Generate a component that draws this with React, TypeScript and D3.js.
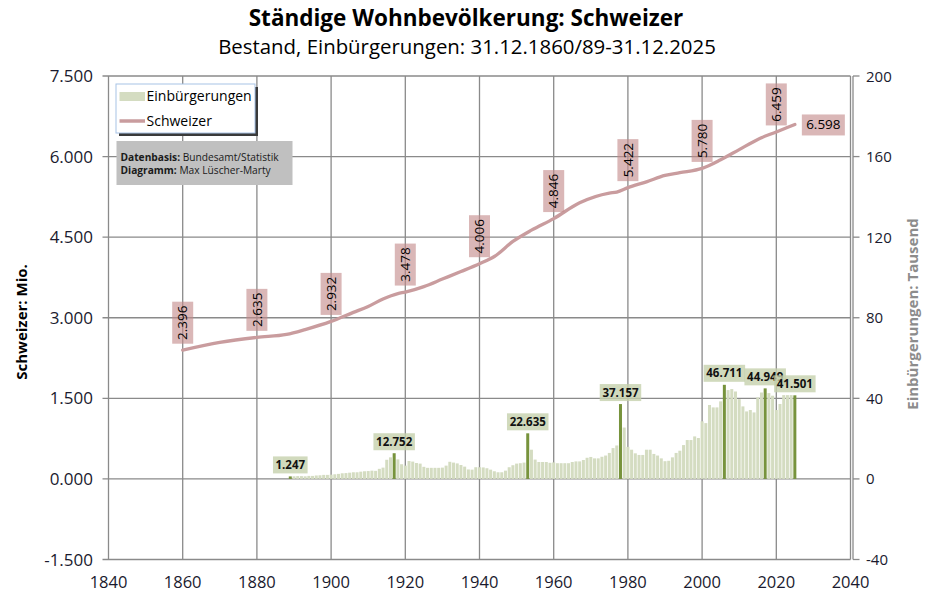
import React from "react";
import * as d3 from "d3";

// ---------- DATA ----------
const xTicks = [1840, 1860, 1880, 1900, 1920, 1940, 1960, 1980, 2000, 2020, 2040];
const leftTicks = [-1.5, 0, 1.5, 3, 4.5, 6, 7.5];
const rightTicks = [-40, 0, 40, 80, 120, 160, 200];

// Einbürgerungen (Tausend), one value per year starting 1889
const natFirstYear = 1889;
const naturalizations = [
  1.247, 1.3, 1.4, 1.4, 1.3, 1.5, 1.5, 1.7, 1.8, 2.0,
  2.0, 2.1, 2.3, 2.5, 2.8, 2.9, 3.1, 3.3, 3.3, 3.6,
  3.8, 3.9, 4.1, 4.0, 5.0, 5.6, 9.5, 10.7, 12.752, 9.7,
  7.3, 6.6, 8.9, 8.6, 7.9, 7.6, 6.0, 5.5, 5.5, 5.5,
  5.5, 5.6, 6.6, 8.5, 8.1, 7.7, 6.9, 6.1, 4.7, 4.6,
  5.8, 5.8, 5.7, 5.3, 4.6, 3.8, 3.3, 3.3, 4.1, 5.8,
  6.8, 7.6, 7.8, 8.1, 22.635, 14.5, 9.6, 8.4, 8.4, 8.4,
  8.0, 8.2, 7.8, 7.8, 7.8, 7.8, 8.4, 8.7, 8.7, 9.4,
  10.5, 10.9, 10.2, 10.2, 11.0, 11.6, 12.9, 15.3, 16.6, 37.157,
  25.5, 15.9, 14.5, 12.7, 11.9, 11.9, 14.5, 14.5, 12.4, 11.6,
  10.2, 8.8, 9.0, 10.7, 12.9, 14.0, 16.8, 19.3, 19.3, 21.1,
  20.3, 28.6, 27.7, 36.7, 35.5, 35.5, 38.5, 46.711, 44.1, 44.6,
  43.4, 39.6, 36.0, 33.5, 34.2, 33.0, 40.5, 42.9, 44.949, 42.6,
  41.3, 34.2, 37.2, 41.6, 41.6, 41.6, 41.501,
];
const highlightYears = [1889, 1917, 1953, 1978, 2006, 2017, 2025];

// Schweizer (Mio.)
const popYears = [
  1860, 1870, 1880, 1888, 1893, 1900, 1906, 1910, 1914, 1918,
  1920, 1925, 1930, 1935, 1940, 1944, 1949, 1954, 1960, 1967,
  1975, 1977, 1980, 1985, 1990, 1994, 2000, 2005, 2010, 2015,
  2020, 2025,
];
const popValues = [
  2.396, 2.54, 2.635, 2.69, 2.78, 2.932, 3.1, 3.21, 3.35, 3.45,
  3.478, 3.58, 3.72, 3.86, 4.006, 4.14, 4.42, 4.63, 4.846, 5.14,
  5.32, 5.34, 5.422, 5.53, 5.65, 5.7, 5.78, 5.94, 6.13, 6.32,
  6.459, 6.598,
];
const popLabelYears = [1860, 1880, 1900, 1920, 1940, 1960, 1980, 2000, 2020];
const popEndYear = 2025;

// ---------- STYLE ----------
const FONT = "'Open Sans', 'Noto Sans', sans-serif";
const GRID = "#8a8a8a";
const BAR = "#d4dcc1";
const BAR_HI = "#77933c";
const LINE = "#c99c9e";
const LINE_BOX = "#c48a8a";
const BAR_BOX = "#c6d1ad";

const fmt3 = (v: number) => v.toFixed(3);

export default function App() {
  const W = 932;
  const H = 599;
  const x = d3.scaleLinear().domain([1840, 2040]).range([108.5, 850.5]);
  const yL = d3.scaleLinear().domain([-1.5, 7.5]).range([559.5, 76]);
  const yR = d3.scaleLinear().domain([-40, 200]).range([559.5, 76]);

  const bars = naturalizations.map((v, i) => ({ year: natFirstYear + i, v }));
  const pop = popYears.map((yr, i) => ({ year: yr, v: popValues[i] }));
  const popAt = (yr: number) => pop.find((d) => d.year === yr)!.v;

  const line = d3
    .line<{ year: number; v: number }>()
    .x((d) => x(d.year))
    .y((d) => yL(d.v))
    .curve(d3.curveMonotoneX);

  const barW = 3.0;

  const barLabels = highlightYears.map((yr) => {
    const v = bars.find((b) => b.year === yr)!.v;
    const t = fmt3(v);
    const digits = t.replace(".", "").length;
    const w = digits * 6.9 + 3 + 4;
    return { yr, v, t, w };
  });

  const endV = popAt(popEndYear);

  return (
    <svg
      width={W}
      height={H}
      style={{ position: "absolute", left: 0, top: 0, background: "#fff" }}
      fontFamily={FONT}
    >
      <rect x={0} y={0} width={W} height={H} fill="#fff" />
      {/* Titles */}
      <text x={466} y={26} textAnchor="middle" fontWeight="bold" fontSize={22.5} fill="#000">
        Ständige Wohnbevölkerung: Schweizer
      </text>
      <text x={467} y={54} textAnchor="middle" fontSize={20.4} fill="#000">
        Bestand, Einbürgerungen: 31.12.1860/89-31.12.2025
      </text>

      {/* Grid */}
      {xTicks.map((t) => (
        <line key={"gx" + t} x1={x(t)} x2={x(t)} y1={yL(7.5)} y2={yL(-1.5)} stroke={GRID} strokeWidth={1.3} />
      ))}
      {leftTicks.map((t) => (
        <line key={"gy" + t} x1={x(1840) - 6} x2={x(2040)} y1={yL(t)} y2={yL(t)} stroke={GRID} strokeWidth={1.3} />
      ))}
      {/* right axis line and ticks */}
      <line x1={x(2040) + 2.5} x2={x(2040) + 2.5} y1={yR(200)} y2={yR(-40)} stroke={GRID} strokeWidth={1.3} />
      {rightTicks.map((t) => (
        <line key={"rt" + t} x1={x(2040) + 2.5} x2={x(2040) + 9} y1={yR(t)} y2={yR(t)} stroke={GRID} strokeWidth={1.3} />
      ))}

      {/* Tick labels */}
      {leftTicks.map((t) => (
        <text key={"lt" + t} x={93} y={yL(t) + 6} textAnchor="end" fontSize={17} fill="#1a1a2e">
          {fmt3(t)}
        </text>
      ))}
      {rightTicks.map((t) => (
        <text key={"rl" + t} x={866} y={yR(t) + 5.5} textAnchor="start" fontSize={15} fill="#1a1a2e">
          {t}
        </text>
      ))}
      {xTicks.map((t) => (
        <text key={"xl" + t} x={x(t)} y={588} textAnchor="middle" fontSize={16.5} fill="#1a1a2e">
          {t}
        </text>
      ))}

      {/* Axis titles */}
      <text
        transform={`translate(27,322) rotate(-90)`}
        textAnchor="middle"
        fontWeight="bold"
        fontSize={15}
        fill="#000"
      >
        Schweizer: Mio.
      </text>
      <text
        transform={`translate(918,314) rotate(-90)`}
        textAnchor="middle"
        fontWeight="bold"
        fontSize={15}
        fill="#8c8c8c"
      >
        Einbürgerungen: Tausend
      </text>

      {/* Bars */}
      {bars.map((b) => {
        const hi = highlightYears.includes(b.year);
        return (
          <rect
            key={"b" + b.year}
            x={x(b.year) - barW / 2}
            y={yR(b.v)}
            width={barW}
            height={yR(0) - yR(b.v)}
            fill={hi ? BAR_HI : BAR}
          />
        );
      })}

      {/* Bar labels */}
      {barLabels.map((l) => {
        const cx = x(l.yr);
        const bottom = yR(l.v) - 3;
        return (
          <g key={"bl" + l.yr}>
            <rect x={cx - l.w / 2} y={bottom - 17} width={l.w} height={17} fill={BAR_BOX} fillOpacity={0.8} />
            <text x={cx} y={bottom - 4.5} textAnchor="middle" fontSize={11.5} fontWeight="bold" fill="#111">
              {l.t}
            </text>
          </g>
        );
      })}

      {/* Line */}
      <path d={line(pop) || ""} fill="none" stroke={LINE} strokeWidth={3.3} strokeLinecap="round" />

      {/* Line labels */}
      {popLabelYears.map((yr) => {
        const v = popAt(yr);
        const px = x(yr);
        const py = yL(v);
        const bh = 42;
        const bw = 21;
        const bottom = py - 6.5;
        return (
          <g key={"pl" + yr}>
            <rect x={px - bw / 2} y={bottom - bh} width={bw} height={bh} fill={LINE_BOX} fillOpacity={0.62} />
            <text
              transform={`translate(${px + 4.7},${bottom - bh / 2}) rotate(-90)`}
              textAnchor="middle"
              fontSize={13.5}
              fill="#000"
            >
              {fmt3(v)}
            </text>
          </g>
        );
      })}
      {(() => {
        const px = x(popEndYear);
        const py = yL(endV);
        return (
          <g>
            <rect x={px + 7} y={py - 10} width={43} height={21} fill={LINE_BOX} fillOpacity={0.62} />
            <text x={px + 28.5} y={py + 5} textAnchor="middle" fontSize={13.5} fill="#000">
              {fmt3(endV)}
            </text>
          </g>
        );
      })()}

      {/* Legend */}
      <rect x={119} y={87} width={139} height={49} fill="#3a3a3a" />
      <rect x={116} y={84} width={139} height={49} fill="#fff" stroke="#a8c3e6" strokeWidth={1} />
      <rect x={119.5} y={92} width={25.5} height={9} fill={BAR} />
      <text x={146.5} y={101} fontSize={14} fill="#000">
        Einbürgerungen
      </text>
      <line x1={119.5} x2={145} y1={121} y2={121} stroke={LINE} strokeWidth={3.5} />
      <text x={146.5} y={126} fontSize={14} fill="#000">
        Schweizer
      </text>

      {/* Source box */}
      <rect x={116.5} y={141} width={176} height={44} fill="#c0c0c0" />
      <text x={120.5} y={160.5} fontSize={10.2} fill="#1a1a1a">
        <tspan fontWeight="bold">Datenbasis:</tspan> Bundesamt/Statistik
      </text>
      <text x={120.5} y={173.5} fontSize={10.2} fill="#1a1a1a">
        <tspan fontWeight="bold">Diagramm:</tspan> Max Lüscher-Marty
      </text>
    </svg>
  );
}
